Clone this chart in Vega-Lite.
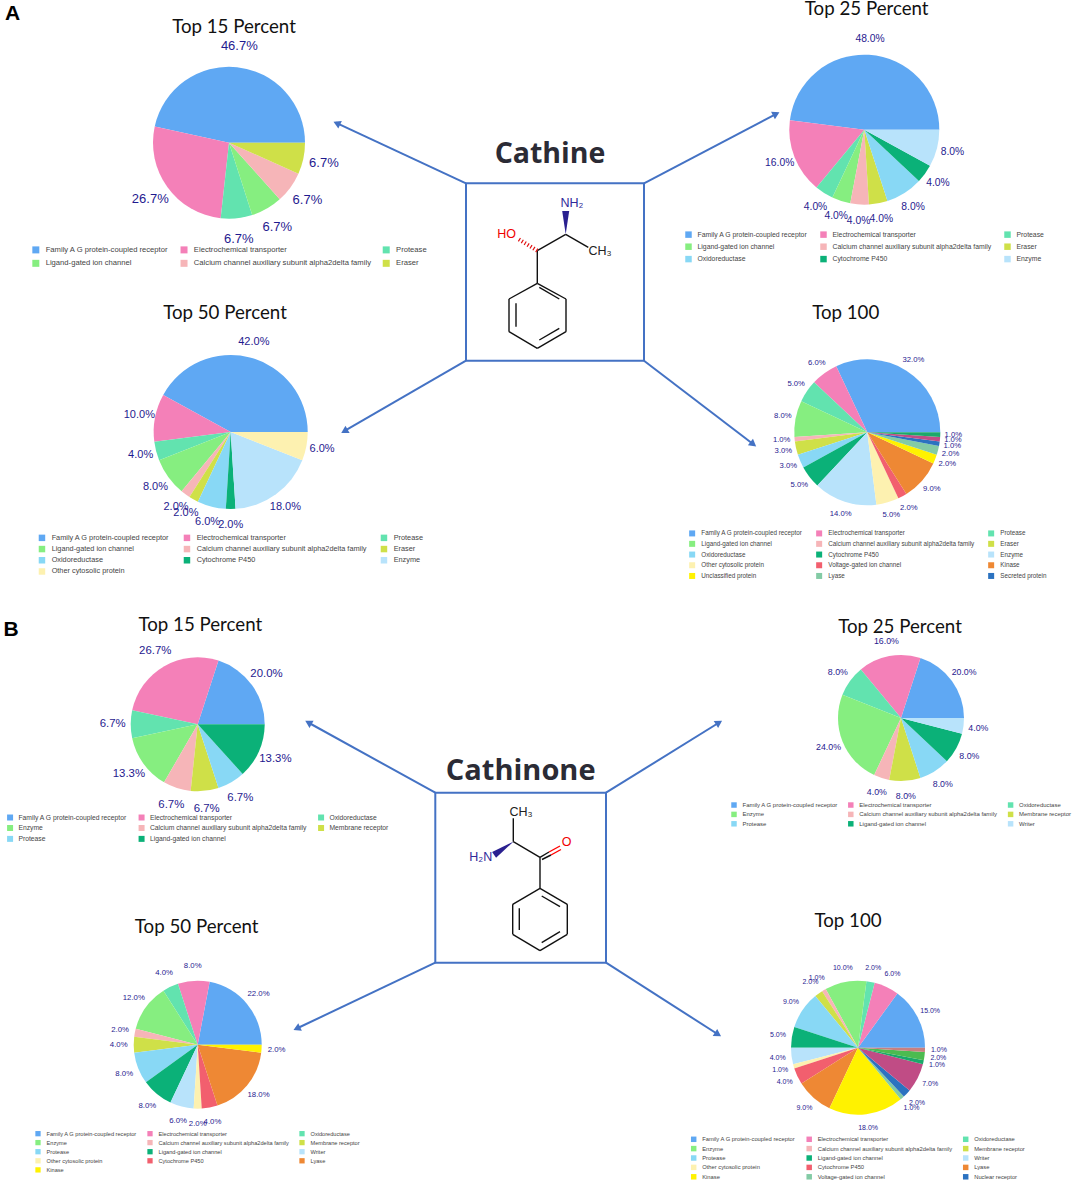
{
"$schema":"https://vega.github.io/schema/vega-lite/v6.json",
"width":1072,"height":1183,"padding":0,"autosize":{"type":"none"},
"background":"#ffffff",
"config":{"view":{"stroke":null},"legend":{"title":null,"orient":"none","direction":"horizontal","columns":3,"symbolType":"square","symbolStrokeWidth":0,"labelFont":"Liberation Sans","labelColor":"#444444","labelLimit":400,"symbolOpacity":1}},
"datasets":{
"A15":[{"category":"Family A G protein-coupled receptor","share":0.467,"rank":1},{"category":"Electrochemical transporter","share":0.267,"rank":2},{"category":"Protease","share":0.067,"rank":3},{"category":"Ligand-gated ion channel","share":0.067,"rank":4},{"category":"Calcium channel auxiliary subunit alpha2delta family","share":0.067,"rank":5},{"category":"Eraser","share":0.067,"rank":6}],
"A25":[{"category":"Family A G protein-coupled receptor","share":0.48,"rank":1},{"category":"Electrochemical transporter","share":0.16,"rank":2},{"category":"Protease","share":0.04,"rank":3},{"category":"Ligand-gated ion channel","share":0.04,"rank":4},{"category":"Calcium channel auxiliary subunit alpha2delta family","share":0.04,"rank":5},{"category":"Eraser","share":0.04,"rank":6},{"category":"Oxidoreductase","share":0.08,"rank":7},{"category":"Cytochrome P450","share":0.04,"rank":8},{"category":"Enzyme","share":0.08,"rank":9}],
"A50":[{"category":"Family A G protein-coupled receptor","share":0.42,"rank":1},{"category":"Electrochemical transporter","share":0.10,"rank":2},{"category":"Protease","share":0.04,"rank":3},{"category":"Ligand-gated ion channel","share":0.08,"rank":4},{"category":"Calcium channel auxiliary subunit alpha2delta family","share":0.02,"rank":5},{"category":"Eraser","share":0.02,"rank":6},{"category":"Oxidoreductase","share":0.06,"rank":7},{"category":"Cytochrome P450","share":0.02,"rank":8},{"category":"Enzyme","share":0.18,"rank":9},{"category":"Other cytosolic protein","share":0.06,"rank":10}],
"A100":[{"category":"Family A G protein-coupled receptor","share":0.32,"rank":1},{"category":"Electrochemical transporter","share":0.06,"rank":2},{"category":"Protease","share":0.05,"rank":3},{"category":"Ligand-gated ion channel","share":0.08,"rank":4},{"category":"Calcium channel auxiliary subunit alpha2delta family","share":0.01,"rank":5},{"category":"Eraser","share":0.03,"rank":6},{"category":"Oxidoreductase","share":0.03,"rank":7},{"category":"Cytochrome P450","share":0.05,"rank":8},{"category":"Enzyme","share":0.14,"rank":9},{"category":"Other cytosolic protein","share":0.05,"rank":10},{"category":"Voltage-gated ion channel","share":0.02,"rank":11},{"category":"Kinase","share":0.09,"rank":12},{"category":"Unclassified protein","share":0.02,"rank":13},{"category":"Lyase","share":0.02,"rank":14},{"category":"Secreted protein","share":0.01,"rank":15},{"category":"Unlisted 1","share":0.01,"rank":16},{"category":"Unlisted 2","share":0.01,"rank":17}],
"B15":[{"category":"Family A G protein-coupled receptor","share":0.20,"rank":1},{"category":"Electrochemical transporter","share":0.267,"rank":2},{"category":"Oxidoreductase","share":0.067,"rank":3},{"category":"Enzyme","share":0.133,"rank":4},{"category":"Calcium channel auxiliary subunit alpha2delta family","share":0.067,"rank":5},{"category":"Membrane receptor","share":0.067,"rank":6},{"category":"Protease","share":0.067,"rank":7},{"category":"Ligand-gated ion channel","share":0.133,"rank":8}],
"B25":[{"category":"Family A G protein-coupled receptor","share":0.20,"rank":1},{"category":"Electrochemical transporter","share":0.16,"rank":2},{"category":"Oxidoreductase","share":0.08,"rank":3},{"category":"Enzyme","share":0.24,"rank":4},{"category":"Calcium channel auxiliary subunit alpha2delta family","share":0.04,"rank":5},{"category":"Membrane receptor","share":0.08,"rank":6},{"category":"Protease","share":0.08,"rank":7},{"category":"Ligand-gated ion channel","share":0.08,"rank":8},{"category":"Writer","share":0.04,"rank":9}],
"B50":[{"category":"Family A G protein-coupled receptor","share":0.22,"rank":1},{"category":"Electrochemical transporter","share":0.08,"rank":2},{"category":"Oxidoreductase","share":0.04,"rank":3},{"category":"Enzyme","share":0.12,"rank":4},{"category":"Calcium channel auxiliary subunit alpha2delta family","share":0.02,"rank":5},{"category":"Membrane receptor","share":0.04,"rank":6},{"category":"Protease","share":0.08,"rank":7},{"category":"Ligand-gated ion channel","share":0.08,"rank":8},{"category":"Writer","share":0.06,"rank":9},{"category":"Other cytosolic protein","share":0.02,"rank":10},{"category":"Cytochrome P450","share":0.04,"rank":11},{"category":"Lyase","share":0.18,"rank":12},{"category":"Kinase","share":0.02,"rank":13}],
"B100":[{"category":"Family A G protein-coupled receptor","share":0.15,"rank":1},{"category":"Electrochemical transporter","share":0.06,"rank":2},{"category":"Oxidoreductase","share":0.02,"rank":3},{"category":"Enzyme","share":0.10,"rank":4},{"category":"Calcium channel auxiliary subunit alpha2delta family","share":0.01,"rank":5},{"category":"Membrane receptor","share":0.02,"rank":6},{"category":"Protease","share":0.09,"rank":7},{"category":"Ligand-gated ion channel","share":0.05,"rank":8},{"category":"Writer","share":0.04,"rank":9},{"category":"Other cytosolic protein","share":0.01,"rank":10},{"category":"Cytochrome P450","share":0.04,"rank":11},{"category":"Lyase","share":0.09,"rank":12},{"category":"Kinase","share":0.18,"rank":13},{"category":"Voltage-gated ion channel","share":0.01,"rank":14},{"category":"Nuclear receptor","share":0.02,"rank":15},{"category":"Unlisted 1","share":0.07,"rank":16},{"category":"Unlisted 2","share":0.01,"rank":17},{"category":"Unlisted 3","share":0.02,"rank":18},{"category":"Unlisted 4","share":0.01,"rank":19}],
"connectors":[{"x":466,"y":183.3,"x2":335.7,"y2":122.7},{"x":644,"y":183.3,"x2":777.3,"y2":113.3},{"x":466,"y":360.7,"x2":343.3,"y2":431.7},{"x":644,"y":360.7,"x2":754.3,"y2":445},{"x":435.3,"y":792.7,"x2":307.3,"y2":722},{"x":606,"y":792.7,"x2":720,"y2":722},{"x":435.3,"y":962.7,"x2":295.7,"y2":1029},{"x":606,"y":962.7,"x2":719,"y2":1035}],
"heads":[{"x":336.8,"y":123.2,"bearing":294.8},{"x":776.2,"y":113.9,"bearing":62.4},{"x":344.4,"y":431.1,"bearing":240},{"x":753.3,"y":444.2,"bearing":127.4},{"x":308.4,"y":722.6,"bearing":299},{"x":719,"y":722.6,"bearing":58.2},{"x":296.8,"y":1028.5,"bearing":244.6},{"x":718,"y":1034.4,"bearing":122.6}],
"boxes":[{"x":466,"x2":644,"y":183.3,"y2":360.7},{"x":435.3,"x2":606,"y":792.7,"y2":962.7}],
"bonds":[
{"x":537.3,"y":250.7,"x2":565.7,"y2":234.3},{"x":565.7,"y":234.3,"x2":588.3,"y2":247.3},{"x":537.3,"y":250.7,"x2":537.3,"y2":283.3},{"x":537.3,"y":283.3,"x2":566,"y2":299},{"x":566,"y":299,"x2":566,"y2":331.7},{"x":566,"y":331.7,"x2":537.3,"y2":348.3},{"x":537.3,"y":348.3,"x2":509,"y2":331.7},{"x":509,"y":331.7,"x2":509,"y2":299},{"x":509,"y":299,"x2":537.3,"y2":283.3},{"x":539.3,"y":287.3,"x2":559.3,"y2":299},{"x":539.3,"y":340,"x2":559.3,"y2":328.3},{"x":516,"y":303.3,"x2":516,"y2":326.7},
{"x":513.3,"y":841.7,"x2":513.3,"y2":818.3},{"x":513.3,"y":841.7,"x2":540,"y2":857.3},{"x":540,"y":857.3,"x2":540,"y2":888.3},{"x":540,"y":888.3,"x2":567.3,"y2":904.3},{"x":567.3,"y":904.3,"x2":567.3,"y2":934.3},{"x":567.3,"y":934.3,"x2":540,"y2":950.7},{"x":540,"y":950.7,"x2":512.7,"y2":934.3},{"x":512.7,"y":934.3,"x2":512.7,"y2":904.3},{"x":512.7,"y":904.3,"x2":540,"y2":888.3},{"x":541.7,"y":896,"x2":560,"y2":906.7},{"x":541.7,"y":942.7,"x2":560,"y2":931.7},{"x":519.3,"y":908.3,"x2":519.3,"y2":930},{"x":540,"y":857.3,"x2":549,"y2":852},{"x":542,"y":859.5,"x2":551,"y2":855}],
"oxygenBonds":[{"x":549,"y":852,"x2":560,"y2":846},{"x":551,"y":855,"x2":561,"y2":849.5}],
"hashBonds":[{"x":537.3,"y":250.7,"x2":517.5,"y2":238.5}],
"wedges":[{"x":565.7,"y":222.6,"bearing":0},{"x":503.7,"y":848.3,"bearing":235.4}],
"atoms":[{"label":"HO","element":"O","x":506.7,"y":234.3},{"label":"NH₂","element":"N","x":572,"y":203},{"label":"CH₃","element":"C","x":600,"y":251},{"label":"CH₃","element":"C","x":521,"y":812},{"label":"O","element":"O","x":566.7,"y":841.7},{"label":"H₂N","element":"N","x":480.7,"y":857.3}]
},
"layer":[
{"data":{"name":"connectors"},"mark":{"type":"rule","stroke":"#4472C4","strokeWidth":2},"encoding":{"x":{"field":"x","type":"quantitative","scale":{"domain":[0,1072]},"axis":null},"y":{"field":"y","type":"quantitative","scale":{"domain":[1183,0]},"axis":null},"x2":{"field":"x2"},"y2":{"field":"y2"}}},
{"data":{"name":"heads"},"mark":{"type":"point","shape":"triangle-up","filled":true,"fill":"#4472C4","opacity":1,"size":70},"encoding":{"x":{"field":"x","type":"quantitative","scale":{"domain":[0,1072]},"axis":null},"y":{"field":"y","type":"quantitative","scale":{"domain":[1183,0]},"axis":null},"angle":{"field":"bearing","type":"quantitative","scale":null}}},
{"data":{"name":"boxes"},"mark":{"type":"rect","fill":null,"stroke":"#4472C4","strokeWidth":2},"encoding":{"x":{"field":"x","type":"quantitative","scale":{"domain":[0,1072]},"axis":null},"y":{"field":"y","type":"quantitative","scale":{"domain":[1183,0]},"axis":null},"x2":{"field":"x2"},"y2":{"field":"y2"}}},
{"data":{"name":"bonds"},"mark":{"type":"rule","stroke":"#111111","strokeWidth":1.4},"encoding":{"x":{"field":"x","type":"quantitative","scale":{"domain":[0,1072]},"axis":null},"y":{"field":"y","type":"quantitative","scale":{"domain":[1183,0]},"axis":null},"x2":{"field":"x2"},"y2":{"field":"y2"}}},
{"data":{"name":"oxygenBonds"},"mark":{"type":"rule","stroke":"#ff0000","strokeWidth":1.4},"encoding":{"x":{"field":"x","type":"quantitative","scale":{"domain":[0,1072]},"axis":null},"y":{"field":"y","type":"quantitative","scale":{"domain":[1183,0]},"axis":null},"x2":{"field":"x2"},"y2":{"field":"y2"}}},
{"data":{"name":"hashBonds"},"mark":{"type":"rule","stroke":"#e01010","strokeWidth":4,"strokeDash":[1.2,2.2]},"encoding":{"x":{"field":"x","type":"quantitative","scale":{"domain":[0,1072]},"axis":null},"y":{"field":"y","type":"quantitative","scale":{"domain":[1183,0]},"axis":null},"x2":{"field":"x2"},"y2":{"field":"y2"}}},
{"data":{"name":"wedges"},"mark":{"type":"point","shape":"M0,1L-0.3,-1L0.3,-1Z","filled":true,"fill":"#2a2090","opacity":1,"size":544},"encoding":{"x":{"field":"x","type":"quantitative","scale":{"domain":[0,1072]},"axis":null},"y":{"field":"y","type":"quantitative","scale":{"domain":[1183,0]},"axis":null},"angle":{"field":"bearing","type":"quantitative","scale":null}}},
{"data":{"name":"atoms"},"mark":{"type":"text","font":"Liberation Sans","fontSize":12.5},"encoding":{"x":{"field":"x","type":"quantitative","scale":{"domain":[0,1072]},"axis":null},"y":{"field":"y","type":"quantitative","scale":{"domain":[1183,0]},"axis":null},"text":{"field":"label"},"color":{"field":"element","type":"nominal","scale":{"domain":["C","N","O"],"range":["#222222","#2f2a9a","#f00000"]},"legend":null}}},
{"data":{"values":[{"label":"A"}]},"mark":{"type":"text","font":"Liberation Sans","fontWeight":"bold","fontSize":21,"color":"#000000"},"encoding":{"x":{"datum":12.7,"type":"quantitative","scale":{"domain":[0,1072]},"axis":null},"y":{"datum":14,"type":"quantitative","scale":{"domain":[1183,0]},"axis":null},"text":{"field":"label"}}},
{"data":{"values":[{"label":"B"}]},"mark":{"type":"text","font":"Liberation Sans","fontWeight":"bold","fontSize":21,"color":"#000000"},"encoding":{"x":{"datum":11,"type":"quantitative","scale":{"domain":[0,1072]},"axis":null},"y":{"datum":630,"type":"quantitative","scale":{"domain":[1183,0]},"axis":null},"text":{"field":"label"}}},
{"data":{"values":[{"label":"Cathine"}]},"mark":{"type":"text","font":"Open Sans","fontWeight":"bold","fontSize":28.5,"color":"#2b2b35"},"encoding":{"x":{"datum":550,"type":"quantitative","scale":{"domain":[0,1072]},"axis":null},"y":{"datum":154,"type":"quantitative","scale":{"domain":[1183,0]},"axis":null},"text":{"field":"label"}}},
{"data":{"values":[{"label":"Cathinone"}]},"mark":{"type":"text","font":"Open Sans","fontWeight":"bold","fontSize":29,"color":"#2b2b35"},"encoding":{"x":{"datum":520.7,"type":"quantitative","scale":{"domain":[0,1072]},"axis":null},"y":{"datum":770.7,"type":"quantitative","scale":{"domain":[1183,0]},"axis":null},"text":{"field":"label"}}},
{"data":{"values":[{"label":"Top 15 Percent"}]},"mark":{"type":"text","font":"Lato","fontSize":18.7,"color":"#111111"},"encoding":{"x":{"datum":234,"type":"quantitative","scale":{"domain":[0,1072]},"axis":null},"y":{"datum":27,"type":"quantitative","scale":{"domain":[1183,0]},"axis":null},"text":{"field":"label"}}},
{"data":{"values":[{"label":"Top 25 Percent"}]},"mark":{"type":"text","font":"Lato","fontSize":18.7,"color":"#111111"},"encoding":{"x":{"datum":866.7,"type":"quantitative","scale":{"domain":[0,1072]},"axis":null},"y":{"datum":8.8,"type":"quantitative","scale":{"domain":[1183,0]},"axis":null},"text":{"field":"label"}}},
{"data":{"values":[{"label":"Top 50 Percent"}]},"mark":{"type":"text","font":"Lato","fontSize":18.7,"color":"#111111"},"encoding":{"x":{"datum":225,"type":"quantitative","scale":{"domain":[0,1072]},"axis":null},"y":{"datum":313.3,"type":"quantitative","scale":{"domain":[1183,0]},"axis":null},"text":{"field":"label"}}},
{"data":{"values":[{"label":"Top 100"}]},"mark":{"type":"text","font":"Lato","fontSize":18.7,"color":"#111111"},"encoding":{"x":{"datum":845.7,"type":"quantitative","scale":{"domain":[0,1072]},"axis":null},"y":{"datum":313.3,"type":"quantitative","scale":{"domain":[1183,0]},"axis":null},"text":{"field":"label"}}},
{"data":{"values":[{"label":"Top 15 Percent"}]},"mark":{"type":"text","font":"Lato","fontSize":18.7,"color":"#111111"},"encoding":{"x":{"datum":200.3,"type":"quantitative","scale":{"domain":[0,1072]},"axis":null},"y":{"datum":625.3,"type":"quantitative","scale":{"domain":[1183,0]},"axis":null},"text":{"field":"label"}}},
{"data":{"values":[{"label":"Top 25 Percent"}]},"mark":{"type":"text","font":"Lato","fontSize":18.7,"color":"#111111"},"encoding":{"x":{"datum":900,"type":"quantitative","scale":{"domain":[0,1072]},"axis":null},"y":{"datum":626.7,"type":"quantitative","scale":{"domain":[1183,0]},"axis":null},"text":{"field":"label"}}},
{"data":{"values":[{"label":"Top 50 Percent"}]},"mark":{"type":"text","font":"Lato","fontSize":18.7,"color":"#111111"},"encoding":{"x":{"datum":196.7,"type":"quantitative","scale":{"domain":[0,1072]},"axis":null},"y":{"datum":926.7,"type":"quantitative","scale":{"domain":[1183,0]},"axis":null},"text":{"field":"label"}}},
{"data":{"values":[{"label":"Top 100"}]},"mark":{"type":"text","font":"Lato","fontSize":18.7,"color":"#111111"},"encoding":{"x":{"datum":848,"type":"quantitative","scale":{"domain":[0,1072]},"axis":null},"y":{"datum":921,"type":"quantitative","scale":{"domain":[1183,0]},"axis":null},"text":{"field":"label"}}},

{"data":{"name":"A15"},"encoding":{"x":{"datum":229,"type":"quantitative","scale":{"domain":[0,1072]},"axis":null},"y":{"datum":142.7,"type":"quantitative","scale":{"domain":[1183,0]},"axis":null},"theta":{"field":"share","type":"quantitative","stack":"normalize","scale":{"domain":[0,1],"range":[1.5708,-4.7124]}},"order":{"field":"rank"}},
"layer":[
{"mark":{"type":"arc","outerRadius":76},"encoding":{"color":{"field":"category","type":"nominal","scale":{"domain":["Family A G protein-coupled receptor","Electrochemical transporter","Protease","Ligand-gated ion channel","Calcium channel auxiliary subunit alpha2delta family","Eraser"],"range":["#5FA8F3","#F480B8","#62E3AF","#86EE80","#F6B5B8","#CFE048"]},"legend":{"legendX":32,"legendY":245.8,"symbolSize":49,"labelFontSize":7.65,"columnPadding":11.2,"rowPadding":4.7,"labelOffset":6}}}},
{"mark":{"type":"text","radius":97,"font":"Liberation Sans","fontSize":13,"color":"#1f1a8f"},"encoding":{"detail":{"field":"category"},"text":{"field":"share","format":".1%"}}}
]},
{"data":{"name":"A25"},"encoding":{"x":{"datum":864.3,"type":"quantitative","scale":{"domain":[0,1072]},"axis":null},"y":{"datum":129.7,"type":"quantitative","scale":{"domain":[1183,0]},"axis":null},"theta":{"field":"share","type":"quantitative","stack":"normalize","scale":{"domain":[0,1],"range":[1.5708,-4.7124]}},"order":{"field":"rank"}},
"layer":[
{"mark":{"type":"arc","outerRadius":75},"encoding":{"color":{"field":"category","type":"nominal","scale":{"domain":["Family A G protein-coupled receptor","Electrochemical transporter","Protease","Ligand-gated ion channel","Calcium channel auxiliary subunit alpha2delta family","Eraser","Oxidoreductase","Cytochrome P450","Enzyme"],"range":["#5FA8F3","#F480B8","#62E3AF","#86EE80","#F6B5B8","#CFE048","#88D8F5","#0BB178","#B8E3FB"]},"legend":{"legendX":685,"legendY":230.8,"symbolSize":42,"labelFontSize":6.85,"columnPadding":12,"rowPadding":4.4,"labelOffset":5.5}}}},
{"mark":{"type":"text","radius":91,"font":"Liberation Sans","fontSize":10.3,"color":"#1f1a8f"},"encoding":{"detail":{"field":"category"},"text":{"field":"share","format":".1%"}}}
]},
{"data":{"name":"A50"},"encoding":{"x":{"datum":230.7,"type":"quantitative","scale":{"domain":[0,1072]},"axis":null},"y":{"datum":432,"type":"quantitative","scale":{"domain":[1183,0]},"axis":null},"theta":{"field":"share","type":"quantitative","stack":"normalize","scale":{"domain":[0,1],"range":[1.5708,-4.7124]}},"order":{"field":"rank"}},
"layer":[
{"mark":{"type":"arc","outerRadius":77},"encoding":{"color":{"field":"category","type":"nominal","scale":{"domain":["Family A G protein-coupled receptor","Electrochemical transporter","Protease","Ligand-gated ion channel","Calcium channel auxiliary subunit alpha2delta family","Eraser","Oxidoreductase","Cytochrome P450","Enzyme","Other cytosolic protein"],"range":["#5FA8F3","#F480B8","#62E3AF","#86EE80","#F6B5B8","#CFE048","#88D8F5","#0BB178","#B8E3FB","#FDF1B0"]},"legend":{"legendX":38.3,"legendY":534.2,"symbolSize":42,"labelFontSize":7.33,"columnPadding":13,"rowPadding":3.2,"labelOffset":6}}}},
{"mark":{"type":"text","radius":93,"font":"Liberation Sans","fontSize":11,"color":"#1f1a8f"},"encoding":{"detail":{"field":"category"},"text":{"field":"share","format":".1%"}}}
]},
{"data":{"name":"A100"},"encoding":{"x":{"datum":867.3,"type":"quantitative","scale":{"domain":[0,1072]},"axis":null},"y":{"datum":432.3,"type":"quantitative","scale":{"domain":[1183,0]},"axis":null},"theta":{"field":"share","type":"quantitative","stack":"normalize","scale":{"domain":[0,1],"range":[1.5708,-4.7124]}},"order":{"field":"rank"}},
"layer":[
{"mark":{"type":"arc","outerRadius":73},"encoding":{"color":{"field":"category","type":"nominal","scale":{"domain":["Family A G protein-coupled receptor","Electrochemical transporter","Protease","Ligand-gated ion channel","Calcium channel auxiliary subunit alpha2delta family","Eraser","Oxidoreductase","Cytochrome P450","Enzyme","Other cytosolic protein","Voltage-gated ion channel","Kinase","Unclassified protein","Lyase","Secreted protein","Unlisted 1","Unlisted 2"],"range":["#5FA8F3","#F480B8","#62E3AF","#86EE80","#F6B5B8","#CFE048","#88D8F5","#0BB178","#B8E3FB","#FDF1B0","#F25F6E","#EE8834","#FFF200","#83CBA5","#2B72C0","#C04C85","#1BA86A"]},"legend":{"values":["Family A G protein-coupled receptor","Electrochemical transporter","Protease","Ligand-gated ion channel","Calcium channel auxiliary subunit alpha2delta family","Eraser","Oxidoreductase","Cytochrome P450","Enzyme","Other cytosolic protein","Voltage-gated ion channel","Kinase","Unclassified protein","Lyase","Secreted protein"],"legendX":689,"legendY":530,"symbolSize":36,"labelFontSize":6.3,"columnPadding":13,"rowPadding":3.7,"labelOffset":6}}}},
{"mark":{"type":"text","radius":86,"font":"Liberation Sans","fontSize":7.7,"color":"#1f1a8f"},"encoding":{"detail":{"field":"category"},"text":{"field":"share","format":".1%"}}}
]},
{"data":{"name":"B15"},"encoding":{"x":{"datum":197.7,"type":"quantitative","scale":{"domain":[0,1072]},"axis":null},"y":{"datum":724.3,"type":"quantitative","scale":{"domain":[1183,0]},"axis":null},"theta":{"field":"share","type":"quantitative","stack":"normalize","scale":{"domain":[0,1],"range":[1.5708,-4.7124]}},"order":{"field":"rank"}},
"layer":[
{"mark":{"type":"arc","outerRadius":67},"encoding":{"color":{"field":"category","type":"nominal","scale":{"domain":["Family A G protein-coupled receptor","Electrochemical transporter","Oxidoreductase","Enzyme","Calcium channel auxiliary subunit alpha2delta family","Membrane receptor","Protease","Ligand-gated ion channel"],"range":["#5FA8F3","#F480B8","#62E3AF","#86EE80","#F6B5B8","#CFE048","#88D8F5","#0BB178"]},"legend":{"legendX":6.7,"legendY":813.7,"symbolSize":36,"labelFontSize":6.75,"columnPadding":10.5,"rowPadding":2.9,"labelOffset":5}}}},
{"mark":{"type":"text","radius":85,"font":"Liberation Sans","fontSize":11.4,"color":"#1f1a8f"},"encoding":{"detail":{"field":"category"},"text":{"field":"share","format":".1%"}}}
]},
{"data":{"name":"B25"},"encoding":{"x":{"datum":901,"type":"quantitative","scale":{"domain":[0,1072]},"axis":null},"y":{"datum":718,"type":"quantitative","scale":{"domain":[1183,0]},"axis":null},"theta":{"field":"share","type":"quantitative","stack":"normalize","scale":{"domain":[0,1],"range":[1.5708,-4.7124]}},"order":{"field":"rank"}},
"layer":[
{"mark":{"type":"arc","outerRadius":63},"encoding":{"color":{"field":"category","type":"nominal","scale":{"domain":["Family A G protein-coupled receptor","Electrochemical transporter","Oxidoreductase","Enzyme","Calcium channel auxiliary subunit alpha2delta family","Membrane receptor","Protease","Ligand-gated ion channel","Writer"],"range":["#5FA8F3","#F480B8","#62E3AF","#86EE80","#F6B5B8","#CFE048","#88D8F5","#0BB178","#B8E3FB"]},"legend":{"legendX":731,"legendY":802,"symbolSize":30,"labelFontSize":5.95,"columnPadding":9.8,"rowPadding":3.4,"labelOffset":5.5}}}},
{"mark":{"type":"text","radius":78,"font":"Liberation Sans","fontSize":8.8,"color":"#1f1a8f"},"encoding":{"detail":{"field":"category"},"text":{"field":"share","format":".1%"}}}
]},
{"data":{"name":"B50"},"encoding":{"x":{"datum":197.7,"type":"quantitative","scale":{"domain":[0,1072]},"axis":null},"y":{"datum":1044.7,"type":"quantitative","scale":{"domain":[1183,0]},"axis":null},"theta":{"field":"share","type":"quantitative","stack":"normalize","scale":{"domain":[0,1],"range":[1.5708,-4.7124]}},"order":{"field":"rank"}},
"layer":[
{"mark":{"type":"arc","outerRadius":64},"encoding":{"color":{"field":"category","type":"nominal","scale":{"domain":["Family A G protein-coupled receptor","Electrochemical transporter","Oxidoreductase","Enzyme","Calcium channel auxiliary subunit alpha2delta family","Membrane receptor","Protease","Ligand-gated ion channel","Writer","Other cytosolic protein","Cytochrome P450","Lyase","Kinase"],"range":["#5FA8F3","#F480B8","#62E3AF","#86EE80","#F6B5B8","#CFE048","#88D8F5","#0BB178","#B8E3FB","#FDF1B0","#F25F6E","#EE8834","#FFF200"]},"legend":{"legendX":35,"legendY":1130.5,"symbolSize":28,"labelFontSize":5.63,"columnPadding":10,"rowPadding":3.1,"labelOffset":5.5}}}},
{"mark":{"type":"text","radius":79,"font":"Liberation Sans","fontSize":7.8,"color":"#1f1a8f"},"encoding":{"detail":{"field":"category"},"text":{"field":"share","format":".1%"}}}
]},
{"data":{"name":"B100"},"encoding":{"x":{"datum":858,"type":"quantitative","scale":{"domain":[0,1072]},"axis":null},"y":{"datum":1047.7,"type":"quantitative","scale":{"domain":[1183,0]},"axis":null},"theta":{"field":"share","type":"quantitative","stack":"normalize","scale":{"domain":[0,1],"range":[1.5708,-4.7124]}},"order":{"field":"rank"}},
"layer":[
{"mark":{"type":"arc","outerRadius":67},"encoding":{"color":{"field":"category","type":"nominal","scale":{"domain":["Family A G protein-coupled receptor","Electrochemical transporter","Oxidoreductase","Enzyme","Calcium channel auxiliary subunit alpha2delta family","Membrane receptor","Protease","Ligand-gated ion channel","Writer","Other cytosolic protein","Cytochrome P450","Lyase","Kinase","Voltage-gated ion channel","Nuclear receptor","Unlisted 1","Unlisted 2","Unlisted 3","Unlisted 4"],"range":["#5FA8F3","#F480B8","#62E3AF","#86EE80","#F6B5B8","#CFE048","#88D8F5","#0BB178","#B8E3FB","#FDF1B0","#F25F6E","#EE8834","#FFF200","#83CBA5","#2B72C0","#C04C85","#1BA86A","#4CBB50","#C88080"]},"legend":{"values":["Family A G protein-coupled receptor","Electrochemical transporter","Oxidoreductase","Enzyme","Calcium channel auxiliary subunit alpha2delta family","Membrane receptor","Protease","Ligand-gated ion channel","Writer","Other cytosolic protein","Cytochrome P450","Lyase","Kinase","Voltage-gated ion channel","Nuclear receptor"],"legendX":690.7,"legendY":1136.2,"symbolSize":30,"labelFontSize":5.8,"columnPadding":10.5,"rowPadding":3.4,"labelOffset":5.5}}}},
{"mark":{"type":"text","radius":81,"font":"Liberation Sans","fontSize":7,"color":"#1f1a8f"},"encoding":{"detail":{"field":"category"},"text":{"field":"share","format":".1%"}}}
]}
],
"resolve":{"scale":{"color":"independent"}}
}
